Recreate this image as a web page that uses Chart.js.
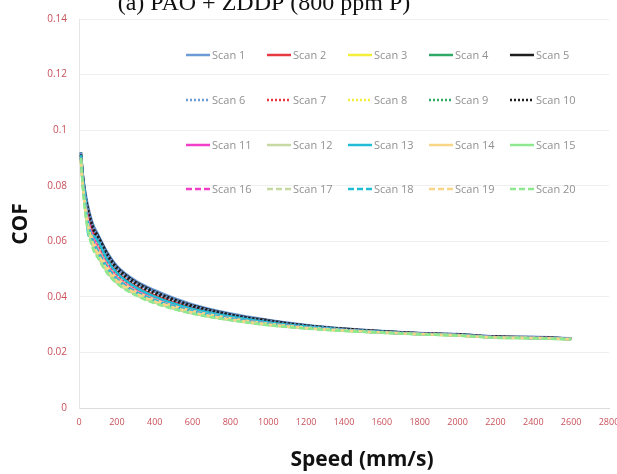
<!DOCTYPE html>
<html>
<head>
<meta charset="utf-8">
<script src="https://cdn.jsdelivr.net/npm/chart.js@4.4.1/dist/chart.umd.min.js"></script>
<style>
    html, body { margin: 0; padding: 0; background: #fff; overflow: hidden; }
    #wrap { width: 640px; height: 474px; }
</style>
</head>
<body>
<div id="wrap"><canvas id="cof-chart" width="640" height="474"></canvas></div>
<script>
// Speed sweep (mm/s), shared by every scan
const speed = [10, 20, 35, 50, 75, 100, 150, 200, 300, 400, 500, 600, 800, 1000, 1200, 1400, 1600, 1800, 2000, 2200, 2400, 2600];

const scanNames = ['Scan 1', 'Scan 2', 'Scan 3', 'Scan 4', 'Scan 5', 'Scan 6', 'Scan 7', 'Scan 8', 'Scan 9', 'Scan 10',
    'Scan 11', 'Scan 12', 'Scan 13', 'Scan 14', 'Scan 15', 'Scan 16', 'Scan 17', 'Scan 18', 'Scan 19', 'Scan 20'];

const scan1 = [0.092, 0.084, 0.077, 0.072, 0.066, 0.0625, 0.056, 0.0512, 0.0458, 0.0424, 0.0396, 0.0373, 0.0340, 0.0317, 0.0299, 0.0286, 0.0277, 0.0270, 0.0266, 0.0258, 0.0256, 0.0251];
const scan2 = [0.091, 0.083, 0.075, 0.070, 0.064, 0.060, 0.0535, 0.0490, 0.0438, 0.0405, 0.0380, 0.0360, 0.0331, 0.0310, 0.0294, 0.0283, 0.0275, 0.0268, 0.0264, 0.0256, 0.0254, 0.0249];
const scan3 = [0.090, 0.082, 0.073, 0.067, 0.061, 0.058, 0.0515, 0.0473, 0.0425, 0.0394, 0.0371, 0.0352, 0.0325, 0.0305, 0.0291, 0.0281, 0.0273, 0.0267, 0.0263, 0.0255, 0.0253, 0.0249];
const scan4 = [0.091, 0.082, 0.072, 0.066, 0.060, 0.0565, 0.0505, 0.0462, 0.0415, 0.0386, 0.0363, 0.0345, 0.0320, 0.0302, 0.0289, 0.0279, 0.0272, 0.0266, 0.0262, 0.0254, 0.0252, 0.0248];
const scan5 = [0.092, 0.084, 0.076, 0.071, 0.065, 0.062, 0.0555, 0.0507, 0.0453, 0.0419, 0.0392, 0.0369, 0.0337, 0.0315, 0.0297, 0.0285, 0.0276, 0.0269, 0.0265, 0.0257, 0.0255, 0.0250];
const scan6 = [0.092, 0.084, 0.076, 0.071, 0.065, 0.0615, 0.0552, 0.0505, 0.0451, 0.0418, 0.0391, 0.0368, 0.0336, 0.0314, 0.0297, 0.0285, 0.0276, 0.0269, 0.0265, 0.0257, 0.0255, 0.0250];
const scan7 = [0.090, 0.082, 0.074, 0.068, 0.062, 0.059, 0.0525, 0.0482, 0.0431, 0.0399, 0.0375, 0.0355, 0.0328, 0.0307, 0.0292, 0.0282, 0.0274, 0.0267, 0.0263, 0.0255, 0.0253, 0.0249];
const scan8 = [0.089, 0.081, 0.072, 0.066, 0.060, 0.0565, 0.0505, 0.0465, 0.0418, 0.0388, 0.0366, 0.0348, 0.0322, 0.0303, 0.0290, 0.0280, 0.0272, 0.0266, 0.0262, 0.0254, 0.0252, 0.0248];
const scan9 = [0.090, 0.081, 0.071, 0.065, 0.059, 0.0555, 0.0497, 0.0458, 0.0412, 0.0383, 0.0361, 0.0343, 0.0319, 0.0301, 0.0288, 0.0279, 0.0272, 0.0266, 0.0261, 0.0254, 0.0252, 0.0248];
const scan10 = [0.091, 0.083, 0.075, 0.070, 0.064, 0.061, 0.0545, 0.0498, 0.0446, 0.0412, 0.0386, 0.0364, 0.0334, 0.0312, 0.0296, 0.0284, 0.0275, 0.0268, 0.0264, 0.0256, 0.0254, 0.0249];
const scan11 = [0.090, 0.082, 0.073, 0.067, 0.061, 0.0575, 0.0512, 0.0470, 0.0423, 0.0392, 0.0369, 0.0350, 0.0324, 0.0304, 0.0291, 0.0281, 0.0273, 0.0267, 0.0263, 0.0255, 0.0253, 0.0249];
const scan12 = [0.089, 0.080, 0.071, 0.065, 0.059, 0.0555, 0.0497, 0.0458, 0.0413, 0.0384, 0.0362, 0.0344, 0.0319, 0.0301, 0.0288, 0.0279, 0.0272, 0.0266, 0.0261, 0.0254, 0.0252, 0.0248];
const scan13 = [0.091, 0.083, 0.075, 0.062, 0.062, 0.060, 0.0532, 0.0486, 0.0434, 0.0401, 0.0376, 0.0356, 0.0329, 0.0308, 0.0293, 0.0282, 0.0274, 0.0267, 0.0263, 0.0255, 0.0253, 0.0249];
const scan14 = [0.089, 0.081, 0.072, 0.066, 0.060, 0.057, 0.0508, 0.0467, 0.0420, 0.0390, 0.0367, 0.0349, 0.0323, 0.0303, 0.0290, 0.0280, 0.0272, 0.0266, 0.0262, 0.0254, 0.0252, 0.0248];
const scan15 = [0.090, 0.080, 0.070, 0.064, 0.058, 0.0548, 0.0490, 0.0452, 0.0408, 0.0380, 0.0358, 0.0341, 0.0317, 0.0299, 0.0287, 0.0278, 0.0271, 0.0265, 0.0261, 0.0253, 0.0251, 0.0247];
const scan16 = [0.090, 0.081, 0.072, 0.066, 0.060, 0.0565, 0.0505, 0.0465, 0.0418, 0.0388, 0.0366, 0.0348, 0.0322, 0.0303, 0.0290, 0.0280, 0.0272, 0.0266, 0.0262, 0.0254, 0.0252, 0.0248];
const scan17 = [0.089, 0.080, 0.070, 0.064, 0.058, 0.0545, 0.0488, 0.0451, 0.0408, 0.0380, 0.0358, 0.0341, 0.0317, 0.0299, 0.0287, 0.0278, 0.0271, 0.0265, 0.0261, 0.0253, 0.0251, 0.0247];
const scan18 = [0.090, 0.081, 0.072, 0.066, 0.060, 0.0565, 0.0505, 0.0465, 0.0418, 0.0388, 0.0366, 0.0348, 0.0322, 0.0303, 0.0290, 0.0280, 0.0272, 0.0266, 0.0262, 0.0254, 0.0252, 0.0248];
const scan19 = [0.089, 0.080, 0.071, 0.065, 0.059, 0.0555, 0.0497, 0.0458, 0.0413, 0.0384, 0.0362, 0.0344, 0.0319, 0.0301, 0.0288, 0.0279, 0.0272, 0.0266, 0.0261, 0.0254, 0.0252, 0.0248];
const scan20 = [0.090, 0.080, 0.069, 0.063, 0.057, 0.0540, 0.0484, 0.0448, 0.0405, 0.0377, 0.0356, 0.0339, 0.0316, 0.0298, 0.0286, 0.0277, 0.0271, 0.0265, 0.0261, 0.0253, 0.0251, 0.0247];

const scanValues = [scan1, scan2, scan3, scan4, scan5, scan6, scan7, scan8, scan9, scan10,
    scan11, scan12, scan13, scan14, scan15, scan16, scan17, scan18, scan19, scan20];

// five colours, reused: solid / dotted / solid / dashed
const paletteA = ['#6d9bd6', '#e63a40', '#f4ee3a', '#2faa66', '#1e1e1e'];
const paletteB = ['#f23fc8', '#c6d9a0', '#22bcd6', '#fad487', '#8fe88f'];

function styleFor(i) {
    const group = Math.floor(i / 5);
    const color = group < 2 ? paletteA[i % 5] : paletteB[i % 5];
    let dash = [];
    if (group === 1) dash = [2, 2];
    if (group === 3) dash = [6, 3];
    return { color, dash };
}

const datasets = scanValues.map((vals, i) => {
    const s = styleFor(i);
    return {
        label: scanNames[i],
        data: vals.map((v, k) => ({ x: speed[k], y: v })),
        borderColor: s.color,
        backgroundColor: s.color,
        borderDash: s.dash,
        borderWidth: 2.5,
        pointRadius: 0,
        cubicInterpolationMode: 'monotone',
        order: scanValues.length - i // later scans drawn on top, like the original
    };
});

const labelFont = "'Open Sans', 'DejaVu Sans', sans-serif";

// Legend laid out inside the plot, 5 columns x 4 rows
const legendInside = {
    id: 'legendInside',
    afterDraw(chart) {
        const ctx = chart.ctx;
        const colX = [186, 267, 348, 429, 510];
        const rowY = [55, 100, 145, 189];
        ctx.save();
        ctx.font = "11px " + labelFont;
        ctx.textBaseline = 'middle';
        chart.data.datasets.forEach((ds, i) => {
            const x = colX[i % 5];
            const y = rowY[Math.floor(i / 5)];
            ctx.strokeStyle = ds.borderColor;
            ctx.lineWidth = 2.5;
            ctx.setLineDash(ds.borderDash);
            ctx.beginPath();
            ctx.moveTo(x, y);
            ctx.lineTo(x + 24, y);
            ctx.stroke();
            ctx.setLineDash([]);
            ctx.fillStyle = '#919191';
            ctx.textAlign = 'left';
            ctx.fillText(ds.label, x + 26, y + 1);
        });
        ctx.restore();
    }
};

// Title (cut at the top edge) and the two axis titles
const textLayer = {
    id: 'textLayer',
    afterDraw(chart) {
        const ctx = chart.ctx;
        ctx.save();
        ctx.fillStyle = '#111';
        ctx.textAlign = 'center';
        ctx.textBaseline = 'alphabetic';
        ctx.font = "24px 'Liberation Serif', 'DejaVu Serif', serif";
        ctx.fillText('(a) PAO + ZDDP (800 ppm P)', 264, 10);

        ctx.font = "bold 21px " + labelFont;
        ctx.textBaseline = 'middle';
        ctx.fillText('Speed (mm/s)', 362, 460);

        ctx.translate(21, 224);
        ctx.rotate(-Math.PI / 2);
        ctx.fillText('COF', 0, 0);
        ctx.restore();
    }
};

new Chart(document.getElementById('cof-chart'), {
    type: 'line',
    data: { datasets },
    plugins: [legendInside, textLayer],
    options: {
        responsive: false,
        animation: false,
        layout: { padding: { top: 19, right: 31, left: 0, bottom: 0 } },
        plugins: {
            legend: { display: false },
            tooltip: { enabled: false }
        },
        scales: {
            x: {
                type: 'linear',
                min: 0,
                max: 2800,
                ticks: {
                    stepSize: 200,
                    padding: 9,
                    color: '#c9505a',
                    font: { size: 9, family: labelFont },
                    maxRotation: 0,
                    autoSkip: false,
                    callback: (value) => String(value)
                },
                grid: { display: false, drawTicks: false },
                border: { color: '#dcdcdc' },
                afterFit(scale) { scale.height = 66; }
            },
            y: {
                min: 0,
                max: 0.14,
                ticks: {
                    stepSize: 0.02,
                    padding: 12,
                    color: '#c9505a',
                    font: { size: 10, family: labelFont },
                    callback: (value) => String(+value.toFixed(2))
                },
                grid: { color: '#efefef', drawTicks: false },
                border: { color: '#e6e6e6' },
                afterFit(scale) { scale.width = 79; }
            }
        }
    }
});
</script>
</body>
</html>
